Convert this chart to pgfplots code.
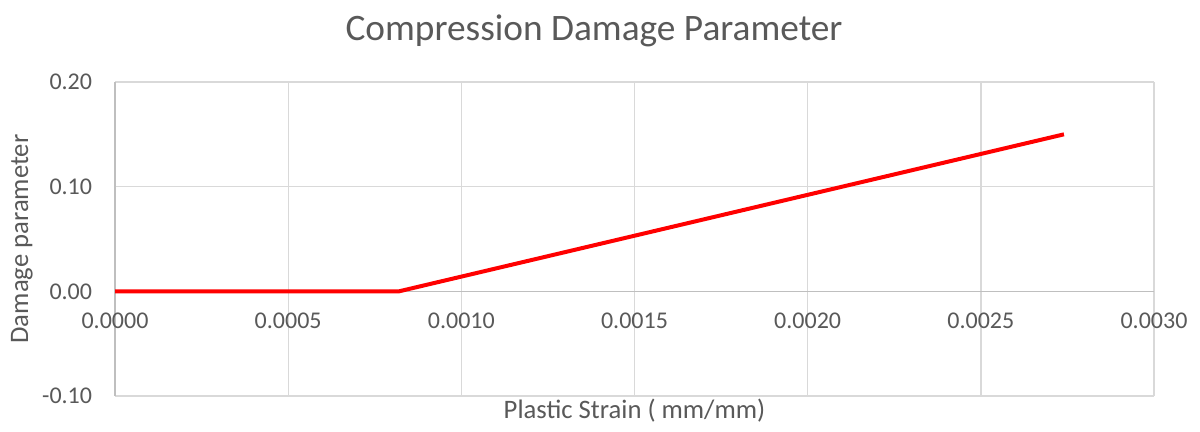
\documentclass[border=0pt]{standalone}
\usepackage{pgfplots}
\pgfplotsset{compat=1.18}
\usepackage{fontspec}
\setmainfont{Carlito}
\definecolor{txt}{HTML}{595959}
\definecolor{gridc}{HTML}{D9D9D9}
\definecolor{axc}{HTML}{BFBFBF}
\begin{document}
\begin{tikzpicture}
\fill[white,use as bounding box] (0,0) rectangle (900pt,324pt);
\begin{axis}[
  at={(86.25pt,27pt)}, anchor=south west,
  scale only axis, width=779.25pt, height=235.5pt,
  xmin=0, xmax=0.003, ymin=-0.1, ymax=0.2,
  axis x line=middle, axis y line=left,
  hide obscured x ticks=false, hide obscured y ticks=false,
  axis line style={-, draw=axc, line width=1pt},
  major tick length=0pt,
  grid=major, major grid style={draw=gridc, line width=1pt},
  xtick={0,0.0005,0.001,0.0015,0.002,0.0025,0.003},
  xticklabels={0.0000,0.0005,0.0010,0.0015,0.0020,0.0025,0.0030},
  ytick={-0.1,0,0.1,0.2},
  yticklabels={-0.10,0.00,0.10,0.20},
  scaled x ticks=false, scaled y ticks=false,
  ticklabel style={font=\fontsize{18pt}{20pt}\selectfont, text=txt},
  xticklabel style={anchor=base, inner sep=0pt, yshift=-27.75pt},
  yticklabel style={anchor=east, inner sep=0pt, xshift=-17pt},
  xlabel={Plastic Strain ( mm/mm)},
  ylabel={Damage parameter},
  label style={font=\fontsize{20pt}{22pt}\selectfont, text=txt},
  xlabel style={at={(axis description cs:0.5,0)}, anchor=base, yshift=-16.5pt},
  ylabel style={at={(axis description cs:-0.0837,0.5)}, anchor=base, rotate=0},
  title={Compression Damage Parameter},
  title style={at={(axis description cs:0.461,1)}, anchor=base, yshift=25.5pt, font=\fontsize{28pt}{30pt}\selectfont, text=txt},
  clip=false,
]
\addplot[red, line width=3pt, line join=round] coordinates {
  (0,0) (0.00082,0) (0.00274,0.15)
};
\end{axis}
\end{tikzpicture}
\end{document}
